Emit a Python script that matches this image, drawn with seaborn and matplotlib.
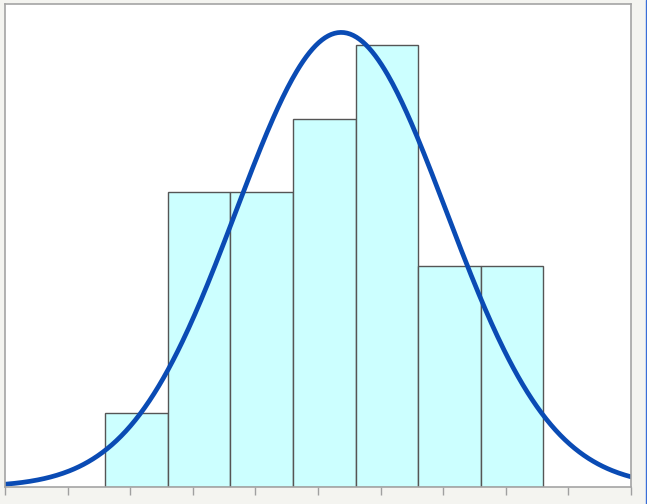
import numpy as np
import pandas as pd
import seaborn as sb
import matplotlib
matplotlib.use("Agg")
import matplotlib.pyplot as plt
from matplotlib.lines import Line2D

# histogram bins (left edges) and counts
bin_left = [1.6, 2.6, 3.6, 4.6, 5.6, 6.6, 7.6]
counts = [1, 4, 4, 5, 6, 3, 3]
bin_width = 1.0

# fitted normal curve parameters
mu = 5.37
sigma = 1.68

sb.set_style("white")

centers = [b + bin_width / 2 for b in bin_left]
edges = bin_left + [bin_left[-1] + bin_width]
hist_df = pd.DataFrame({"x": centers, "n": counts})

xs = np.linspace(0, 10, 400)
n_total = sum(counts)
ys = n_total * bin_width / (sigma * np.sqrt(2 * np.pi)) * np.exp(-0.5 * ((xs - mu) / sigma) ** 2)
curve_df = pd.DataFrame({"x": xs, "y": ys})

fig = plt.figure(figsize=(6.47, 5.04), dpi=100, facecolor="#f4f4f0")
ax = fig.add_axes([5 / 647, 17 / 504, 626 / 647, 483 / 504])
ax.set_facecolor("white")

sb.histplot(data=hist_df, x="x", weights="n", bins=edges, ax=ax,
            color="#ccffff", alpha=1, edgecolor="#555555", linewidth=1)
sb.lineplot(data=curve_df, x="x", y="y", ax=ax, color="#0a4bb4", linewidth=3.4)

ax.set_xlim(0, 10)
ax.set_ylim(0, 6.56)
ax.set_xticks(range(0, 11))
ax.set_xticklabels([])
ax.set_yticks([])
ax.set_xlabel("")
ax.set_ylabel("")
ax.tick_params(axis="x", direction="out", length=6, width=1, color="#a0a0a0", bottom=True)
for side in ["left", "top", "right", "bottom"]:
    ax.spines[side].set_visible(True)
    ax.spines[side].set_color("#a4a4a4")
    ax.spines[side].set_linewidth(1.2)

# thin blue frame line at right edge of the image
fig.add_artist(Line2D([645.5 / 647, 645.5 / 647], [0, 1], color="#3a6fd8", linewidth=1))

fig.savefig("out.png", dpi=100, facecolor=fig.get_facecolor())
